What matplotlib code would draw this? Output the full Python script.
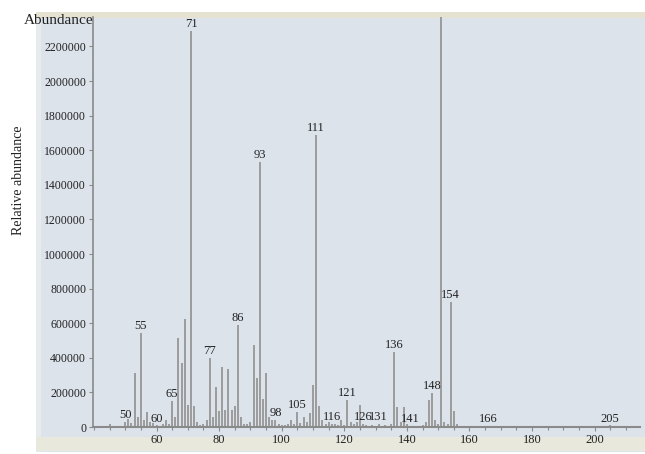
import matplotlib
matplotlib.use("Agg")
import matplotlib.pyplot as plt
import matplotlib.patches as patches
import numpy as np

# m/z values and intensities
mz = [45, 50, 51, 52, 53, 54, 55, 56, 57, 58, 59, 60, 62, 63, 64, 65, 66, 67, 68, 69,
      70, 71, 72, 73, 74, 75, 76, 77, 78, 79, 80, 81, 82, 83, 84, 85, 86, 87, 88, 89,
      90, 91, 92, 93, 94, 95, 96, 97, 98, 99, 100, 101, 102, 103, 104, 105, 106, 107,
      108, 109, 110, 111, 112, 113, 114, 115, 116, 117, 118, 119, 120, 121, 122, 123,
      124, 125, 126, 127, 128, 129, 130, 131, 132, 133, 134, 135, 136, 137, 138, 139,
      140, 141, 143, 145, 146, 147, 148, 149, 150, 151, 152, 153, 154, 155, 156, 160,
      166, 180, 205]
intensity = [15000, 30000, 45000, 25000, 312000, 60000, 545000, 40000, 87000, 30000,
             25000, 10000, 20000, 40000, 15000, 150000, 60000, 514000, 370000, 624000,
             130000, 2290000, 120000, 30000, 10000, 20000, 40000, 399000, 60000, 231000,
             90000, 347000, 100000, 335000, 100000, 120000, 590000, 60000, 15000, 20000,
             30000, 474000, 283000, 1532000, 160000, 312000, 60000, 40000, 40000, 20000,
             10000, 10000, 15000, 40000, 15000, 87000, 25000, 60000, 30000, 80000,
             243000, 1688000, 120000, 40000, 15000, 30000, 17000, 15000, 10000, 40000,
             10000, 156000, 30000, 20000, 30000, 127000, 17000, 10000, 8000, 10000,
             8000, 17000, 8000, 10000, 8000, 20000, 433000, 116000, 30000, 116000,
             20000, 5000, 5000, 10000, 30000, 156000, 197000, 40000, 15000, 2600000,
             30000, 15000, 722000, 90000, 15000, 5000, 5000, 3000, 10000]

labelled = [50, 55, 60, 65, 71, 77, 86, 93, 98, 105, 111, 116, 121, 126, 131, 136,
            141, 148, 154, 166, 205]

xticks = [60, 80, 100, 120, 140, 160, 180, 200]
yticks = list(range(0, 2200001, 200000))

plt.rcParams['font.family'] = ['Liberation Serif', 'DejaVu Serif']

W, H = 645, 454
fig = plt.figure(figsize=(W / 100, H / 100), dpi=100)
fig.patch.set_facecolor('white')

# scanned screenshot background (behind the axes)
bands = [((36, 452, 609, 440), '#dce3eb'),
         ((36, 452, 5, 440), '#e8ebee'),
         ((36, 18, 609, 6), '#e6e2d2'),
         ((36, 451, 609, 14), '#e9e8dc')]
for (x0, y0, w, h), c in bands:
    fig.patches.append(patches.Rectangle((x0 / W, 1 - y0 / H), w / W, h / H,
                                         transform=fig.transFigure, facecolor=c,
                                         edgecolor='none', zorder=-10))

ax = fig.add_axes([93 / W, 1 - 427 / H, 547 / W, 410 / H])
ax.set_facecolor('none')

ax.vlines(mz, 0, intensity, color='#9c9c9c', linewidth=1.4)

for m, v in zip(mz, intensity):
    if m in labelled:
        ax.text(m, v + 4000, str(m), ha='center', va='bottom', fontsize=9,
                color='#222222')

ax.set_xlim(39.7, 214.5)
ax.set_ylim(0, 2370000)
ax.set_xticks(xticks)
ax.set_xticks(np.arange(40, 215, 5), minor=True)
ax.set_yticks(yticks)
ax.set_yticklabels([str(t) for t in yticks])

for s in ['top', 'right']:
    ax.spines[s].set_visible(False)
ax.spines['left'].set_color('#8a8a8a')
ax.spines['left'].set_linewidth(1.2)
ax.spines['bottom'].set_color('#8a8a8a')
ax.spines['bottom'].set_linewidth(1.5)

ax.tick_params(axis='both', which='major', labelsize=9, colors='#8a8a8a',
               labelcolor='#222222', length=3, width=0.8, pad=2)
ax.tick_params(axis='y', which='major', labelsize=8.5)
ax.tick_params(axis='x', which='minor', colors='#8a8a8a', length=2, width=0.8)

fig.text(19 / W, 1 - 180 / H, 'Relative abundance', rotation=90, ha='center',
         va='center', fontsize=10, color='#222222')
fig.text(93 / W, 1 - 21 / H, 'Abundance', ha='right', va='center', fontsize=11,
         color='#222222')

fig.savefig('out.png', dpi=100)
